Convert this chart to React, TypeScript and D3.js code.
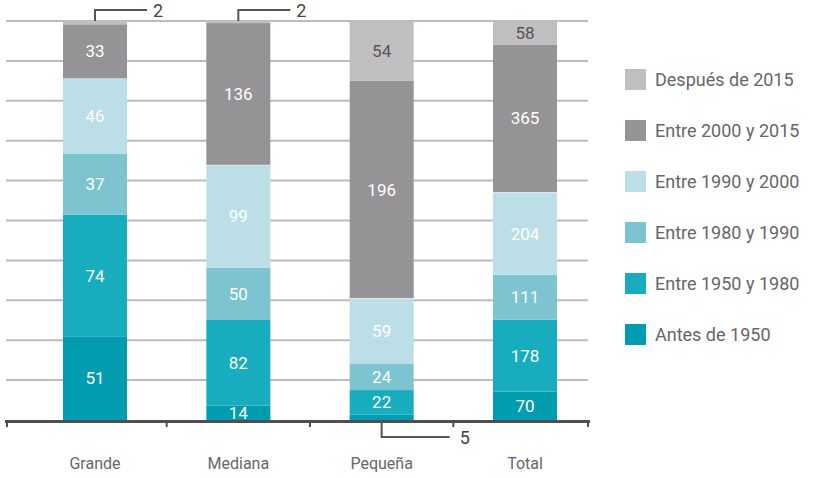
import React, { useEffect } from 'react'
import * as d3 from 'd3'

const categories = ['Grande', 'Mediana', 'Pequeña', 'Total']

// stacked bottom to top
const seriesNames = [
  'Antes de 1950',
  'Entre 1950 y 1980',
  'Entre 1980 y 1990',
  'Entre 1990 y 2000',
  'Entre 2000 y 2015',
  'Después de 2015',
]
const antes1950 = [51, 14, 5, 70]
const entre1950y1980 = [74, 82, 22, 178]
const entre1980y1990 = [37, 50, 24, 111]
const entre1990y2000 = [46, 99, 59, 204]
const entre2000y2015 = [33, 136, 196, 365]
const despues2015 = [2, 2, 54, 58]

const seriesValues = [antes1950, entre1950y1980, entre1980y1990, entre1990y2000, entre2000y2015, despues2015]
const colors = ['#029cb0', '#17adbe', '#7cc4cf', '#bcdee6', '#959395', '#c0bec0']
const labelColors = ['#fff', '#fff', '#fff', '#fff', '#fff', '#555']

const W = 815
const H = 478
const top = 21
const bottom = 420
const gridLeft = 6
const gridRight = 588
const barW = 64
const font = 'Roboto, "DejaVu Sans", sans-serif'

type Row = { [k: string]: string | number }

const App = () => {
  useEffect(() => {
    document.body.style.margin = '0'
  }, [])

  const rows: Row[] = categories.map((c, i) => {
    const r: Row = { cat: c }
    seriesNames.forEach((s, j) => (r[s] = seriesValues[j][i]))
    return r
  })

  const stacked = d3
    .stack<Row>()
    .keys(seriesNames)
    .value((d, k) => d[k] as number)
    .offset(d3.stackOffsetExpand)(rows)

  const x = d3.scalePoint<string>().domain(categories).range([95, 525])
  const y = d3.scaleLinear().domain([0, 1]).range([bottom, top])

  const gridTicks = d3.range(1, 11).map((d) => d / 10)
  const centers = categories.map((c) => x(c) as number)
  const tickXs = [7, ...centers.slice(1).map((c, i) => (c + centers[i]) / 2), gridRight]

  const legendY = d3.scalePoint<string>().domain([...seriesNames].reverse()).range([79.5, 334.5])

  const callouts: React.ReactNode[] = []

  return (
    <svg width={W} height={H} style={{ display: 'block', fontFamily: font }}>
      {gridTicks.map((t) => (
        <line key={t} x1={gridLeft} x2={gridRight} y1={y(t)} y2={y(t)} stroke="#babcbf" strokeWidth={2} />
      ))}
      {stacked.map((layer, li) => (
        <g key={layer.key}>
          {layer.map((seg, ci) => {
            const cx = centers[ci]
            const y0 = y(seg[0])
            const y1 = y(seg[1])
            const v = seriesValues[li][ci]
            const isTop = li === stacked.length - 1
            if (v < 10) {
              if (isTop) {
                const lineEnd = cx + 52
                callouts.push(
                  <g key={`c${li}-${ci}`}>
                    <polyline points={`${cx},${top} ${cx},${top - 11} ${lineEnd},${top - 11}`} fill="none" stroke="#555" strokeWidth={2} />
                    <text x={lineEnd + 6} y={top - 10} dy="0.35em" fontSize={18} fill="#444">{v}</text>
                  </g>
                )
              } else {
                const lineEnd = cx + 68
                callouts.push(
                  <g key={`c${li}-${ci}`}>
                    <polyline points={`${cx},${bottom} ${cx},${bottom + 17} ${lineEnd},${bottom + 17}`} fill="none" stroke="#555" strokeWidth={2} />
                    <text x={lineEnd + 10} y={bottom + 18} dy="0.35em" fontSize={18} fill="#444">{v}</text>
                  </g>
                )
              }
            }
            return (
              <g key={ci}>
                <rect x={cx - barW / 2} y={y1} width={barW} height={Math.max(0, y0 - y1)} fill={colors[li]} />
                {layer.key === 'Entre 1990 y 2000' && (
                  <line x1={cx - barW / 2} x2={cx + barW / 2} y1={y1} y2={y1} stroke="#fff" strokeWidth={1} />
                )}
                {v >= 10 && (
                  <text x={cx} y={(y0 + y1) / 2} dy="0.36em" textAnchor="middle" fontSize={17} fill={labelColors[li]}>
                    {v}
                  </text>
                )}
              </g>
            )
          })}
        </g>
      ))}
      <line x1={5} x2={590} y1={bottom + 1.5} y2={bottom + 1.5} stroke="#4d4f53" strokeWidth={3} />
      {tickXs.map((tx, i) => (
        <line key={i} x1={tx} x2={tx} y1={bottom} y2={bottom + 7} stroke="#4d4f53" strokeWidth={2} />
      ))}
      {callouts}
      {categories.map((c) => (
        <text key={c} x={x(c)} y={463} dy="0.35em" textAnchor="middle" fontSize={16} fill="#666">
          {c}
        </text>
      ))}
      {[...seriesNames].reverse().map((s) => {
        const ly = legendY(s) as number
        return (
          <g key={s}>
            <rect x={625} y={ly - 10.5} width={21} height={21} fill={colors[seriesNames.indexOf(s)]} />
            <text x={655} y={ly} dy="0.35em" fontSize={18} fill="#666">
              {s}
            </text>
          </g>
        )
      })}
    </svg>
  )
}

export default App
